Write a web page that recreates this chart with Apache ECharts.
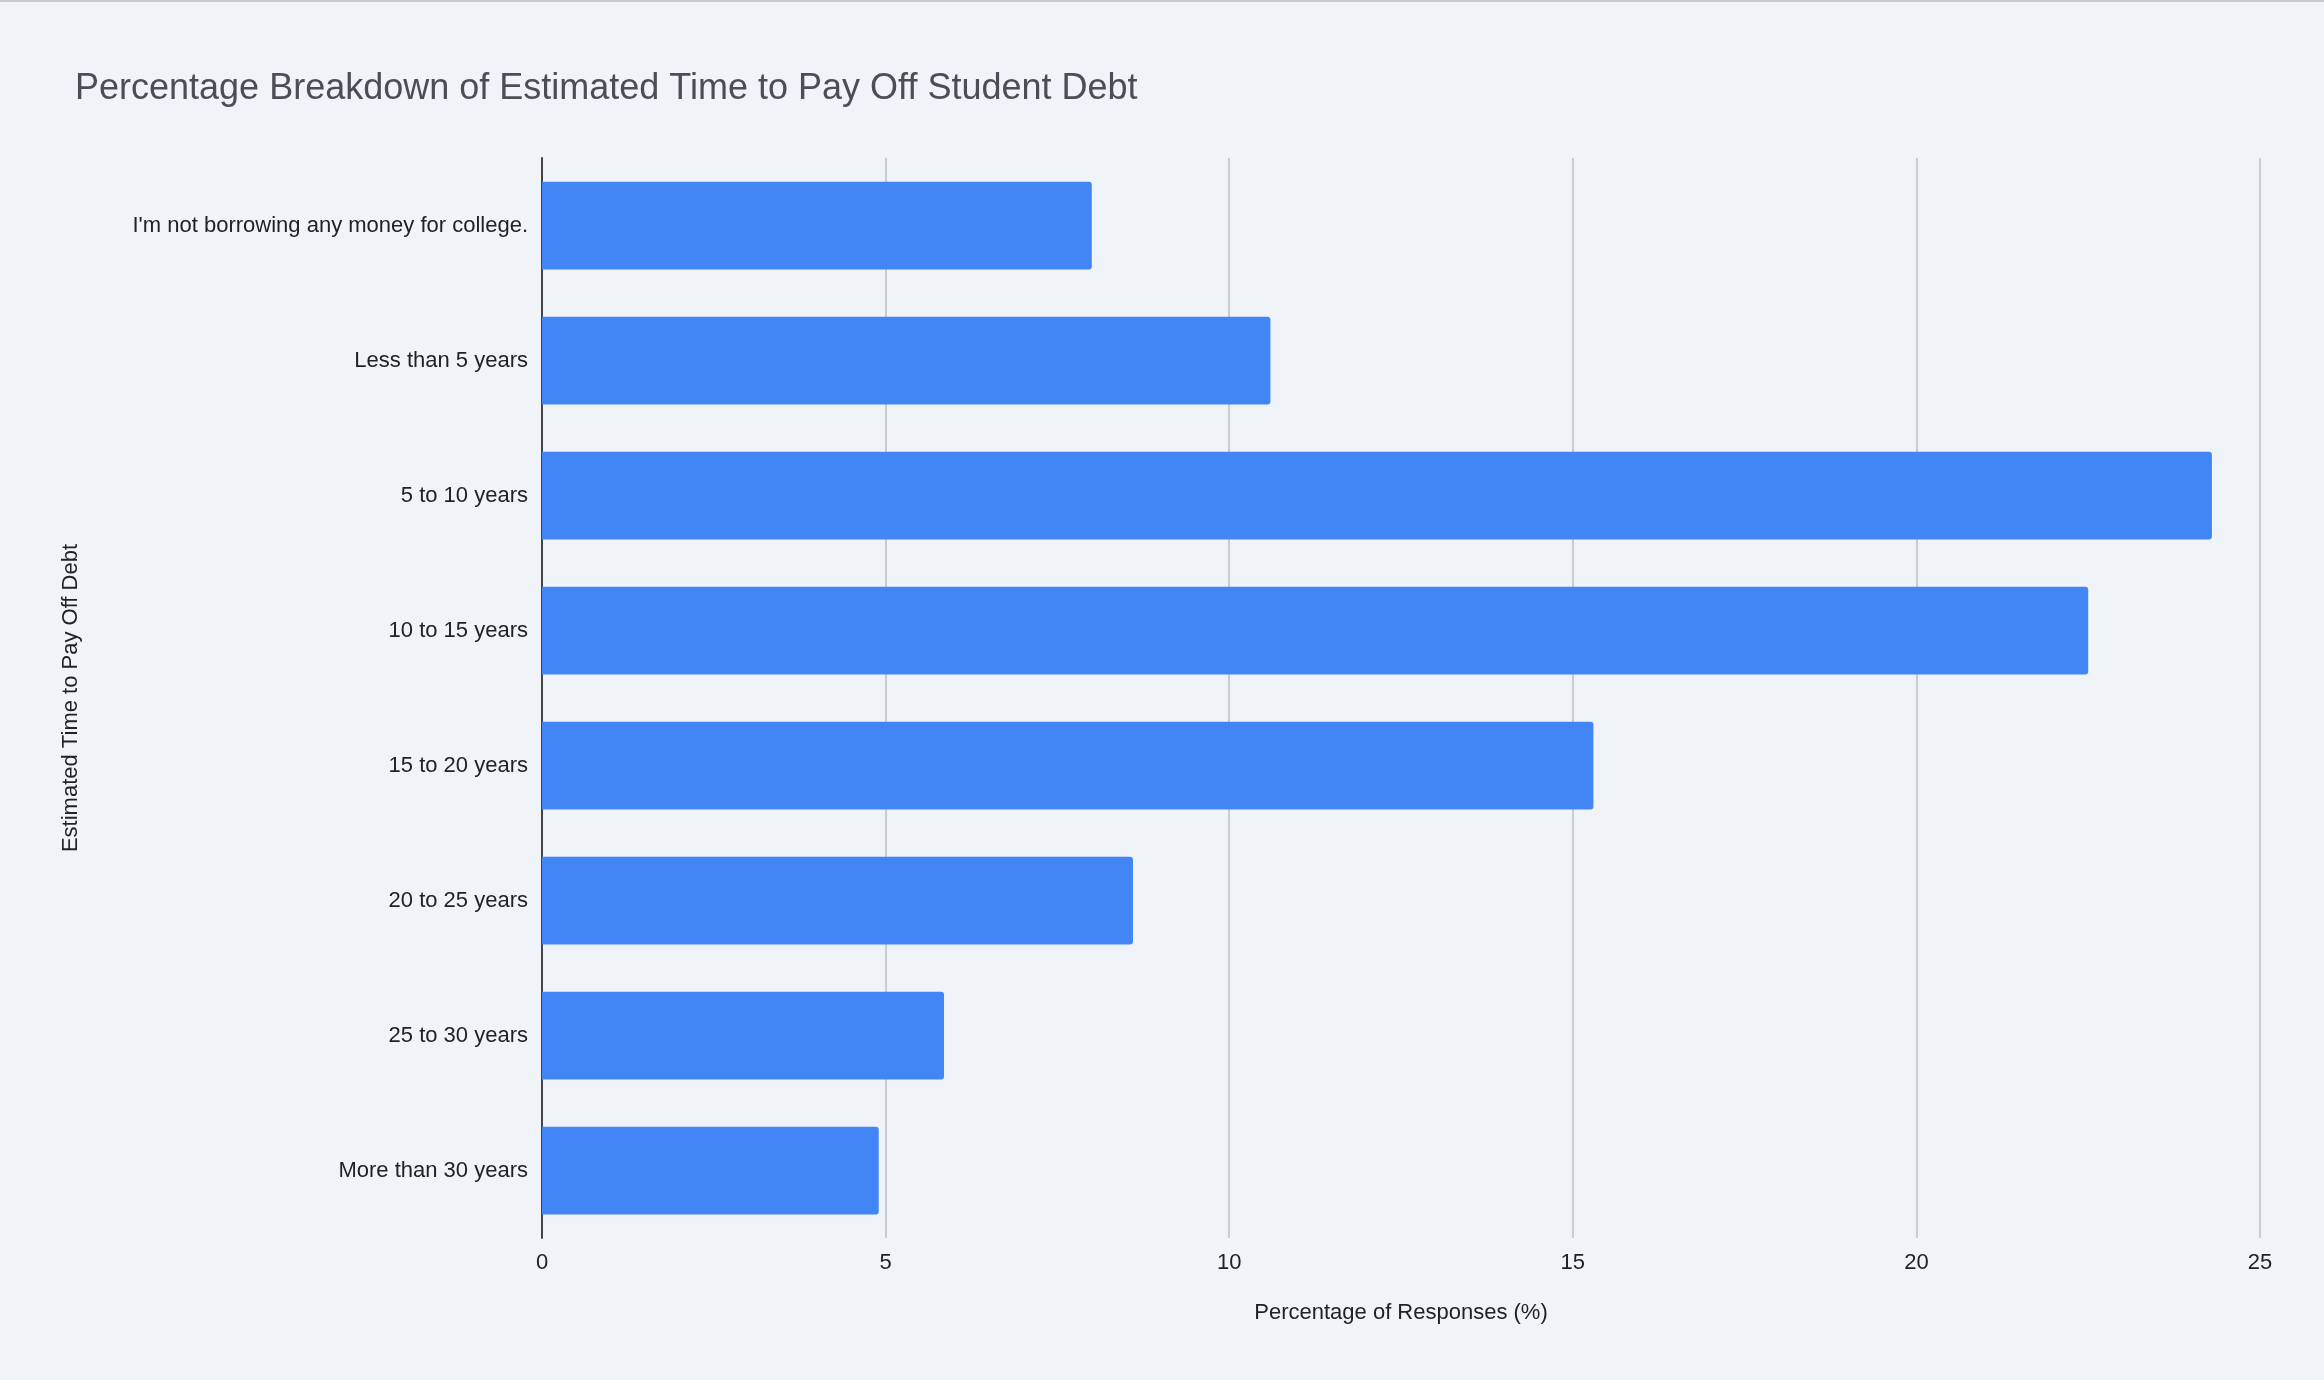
<!DOCTYPE html>
<html>
<head>
<meta charset="utf-8">
<script src="https://cdn.jsdelivr.net/npm/echarts@6/dist/echarts.min.js"></script>
<style>
  html, body { margin: 0; padding: 0; background: #f0f4f9; }
  #main { width: 2324px; height: 1380px; border-top: 2px solid #c8ccd0; box-sizing: border-box; }
</style>
</head>
<body>
<div id="main"></div>
<script>
// 分类与数值
var categories = [
  "I'm not borrowing any money for college.",
  'Less than 5 years',
  '5 to 10 years',
  '10 to 15 years',
  '15 to 20 years',
  '20 to 25 years',
  '25 to 30 years',
  'More than 30 years'
];
var percentages = [8.0, 10.6, 24.3, 22.5, 15.3, 8.6, 5.85, 4.9];

var chart = echarts.init(document.getElementById('main'));
chart.setOption({
  backgroundColor: '#f0f4f9',
  textStyle: { fontFamily: 'Arial, Liberation Sans, sans-serif' },
  title: {
    text: 'Percentage Breakdown of Estimated Time to Pay Off Student Debt',
    left: 70,
    top: 64,
    textStyle: { fontSize: 36, fontWeight: 'normal', color: '#4a4f55' }
  },
  grid: { left: 542, right: 64, top: 156, bottom: 142 },
  xAxis: {
    type: 'value',
    min: 0,
    max: 25,
    interval: 5,
    name: 'Percentage of Responses (%)',
    nameLocation: 'middle',
    nameGap: 64,
    nameTextStyle: { fontSize: 22, color: '#222' },
    axisLabel: { fontSize: 22, color: '#222', margin: 14 },
    axisLine: { show: false },
    axisTick: { show: false },
    splitLine: { lineStyle: { color: '#c9cdd2', width: 2 } }
  },
  yAxis: {
    type: 'category',
    inverse: true,
    data: categories,
    name: 'Estimated Time to Pay Off Debt',
    nameLocation: 'middle',
    nameGap: 460,
    nameTextStyle: { fontSize: 22, color: '#222' },
    axisLabel: { fontSize: 22, color: '#222', margin: 14 },
    axisLine: { lineStyle: { color: '#444', width: 2 } },
    axisTick: { show: false }
  },
  series: [{
    type: 'bar',
    data: percentages,
    barWidth: '65%',
    itemStyle: { color: '#4285f4', borderRadius: [0, 3, 3, 0] }
  }]
});
</script>
</body>
</html>
